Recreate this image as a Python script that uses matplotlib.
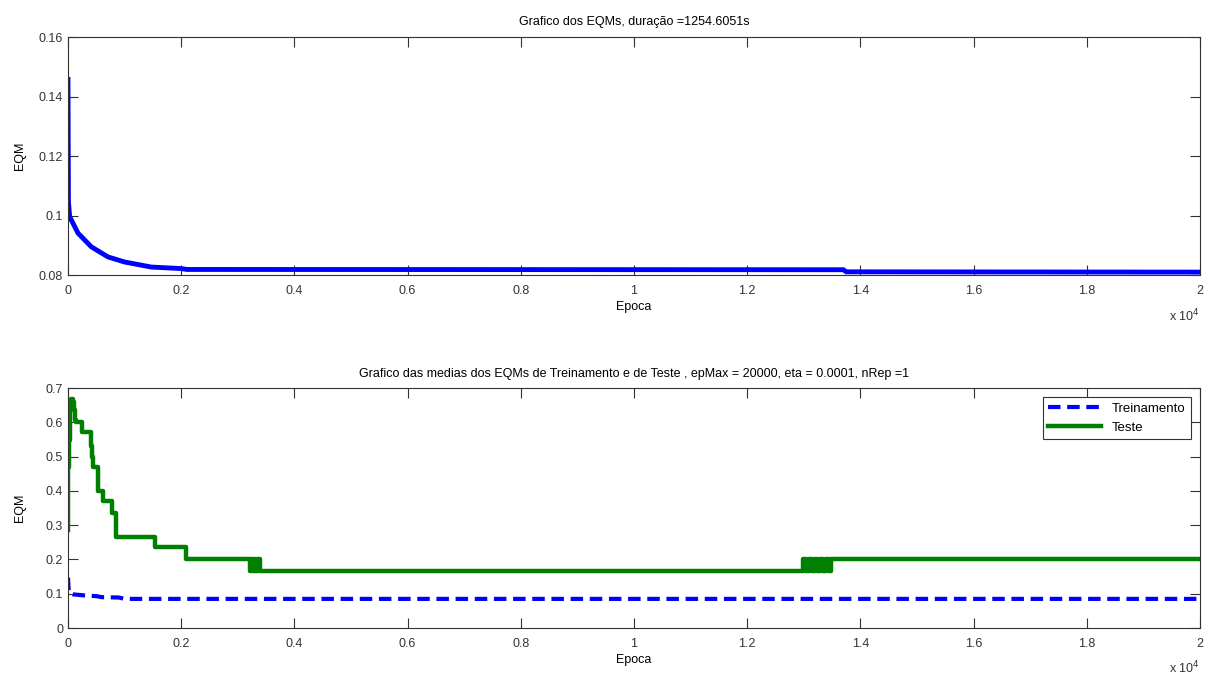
import matplotlib
matplotlib.use("Agg")
import matplotlib.pyplot as plt
from matplotlib.ticker import FuncFormatter, MultipleLocator
import numpy as np

plt.rcParams['font.family'] = ['Liberation Sans', 'DejaVu Sans']
plt.rcParams['font.size'] = 9

# --- dados ---
# EQM de treinamento (grafico de cima)
ep_top = [0, 8, 30, 177, 412, 707, 1000, 1472, 2000, 2100, 13700, 13750, 20000]
eqm_top = [0.1458, 0.1047, 0.0997, 0.0942, 0.0896, 0.0862, 0.0845, 0.0828,
           0.0823, 0.0820, 0.0819, 0.0812, 0.0811]

# medias - treinamento (tracejado)
ep_trein = [0, 15, 100, 300, 500, 600, 900, 1000, 20000]
eqm_trein = [0.147, 0.103, 0.098, 0.095, 0.093, 0.090, 0.089, 0.085, 0.085]

# medias - teste (degraus)
ep_teste = [0, 5, 12, 40, 60, 90, 110, 130, 147, 247, 383, 400, 420, 440, 500,
            530, 618, 777, 854, 883, 1531, 2091,
            3210, 3240, 3270, 3300, 3330, 3360, 3390, 3400,
            12990, 13040, 13090, 13140, 13190, 13240, 13290, 13340, 13390, 13440, 13481,
            20000]
eqm_teste = [0.286, 0.47, 0.55, 0.64, 0.668, 0.66, 0.637, 0.607, 0.60, 0.573, 0.573, 0.53, 0.50, 0.47, 0.47,
             0.40, 0.37, 0.335, 0.265, 0.265, 0.235, 0.20,
             0.167, 0.20, 0.167, 0.20, 0.167, 0.20, 0.167, 0.167,
             0.20, 0.167, 0.20, 0.167, 0.20, 0.167, 0.20, 0.167, 0.20, 0.167, 0.20,
             0.20]

titulo_top = "Grafico dos EQMs, duração =1254.6051s"
titulo_bot = ("Grafico das medias dos EQMs de Treinamento e de Teste , "
              "epMax = 20000, eta = 0.0001, nRep =1")

fig = plt.figure(figsize=(12.16, 6.75), dpi=100)
ax1 = fig.add_axes([0.0559, 0.592, 0.9309, 0.353])
ax2 = fig.add_axes([0.0559, 0.0696, 0.9309, 0.3554])

fmt_x = FuncFormatter(lambda v, p: '%g' % (v / 1e4))
fmt_y = FuncFormatter(lambda v, p: '%g' % round(v, 4))

def estilo(ax):
    ax.set_xlim(0, 20000)
    ax.xaxis.set_major_locator(MultipleLocator(2000))
    ax.xaxis.set_major_formatter(fmt_x)
    ax.yaxis.set_major_formatter(fmt_y)
    ax.tick_params(direction='in', length=7, top=True, right=True,
                   labelsize=9, colors='#333333', width=0.8)
    ax.tick_params(axis='x', pad=7)
    for s in ax.spines.values():
        s.set_color('#333333')
        s.set_linewidth(0.8)
    ax.set_xlabel('Epoca', fontsize=9, labelpad=3)
    ax.set_ylabel('EQM', fontsize=9)
    ax.yaxis.set_label_coords(-0.037, 0.5)
    ax.annotate(r'x 10$^4$', xy=(1.0, 0.0), xycoords='axes fraction',
                xytext=(0, -32), textcoords='offset pixels', ha='right',
                va='top', fontsize=9, color='#333333')

# grafico de cima
ax1.plot(ep_top, eqm_top, color='#0000ff', lw=3.5, solid_joinstyle='miter')
ax1.set_ylim(0.08, 0.16)
ax1.yaxis.set_major_locator(MultipleLocator(0.02))
ax1.set_title(titulo_top, fontsize=9, pad=9)
estilo(ax1)

# grafico de baixo
ax2.plot(ep_trein, eqm_trein, color='#0000ff', lw=3, linestyle=(0, (3, 1.6)),
         label='Treinamento')
ax2.step(ep_teste, eqm_teste, where='post', color='#008000', lw=3.2,
         label='Teste')
ax2.set_ylim(0, 0.7)
ax2.yaxis.set_major_locator(MultipleLocator(0.1))
ax2.set_title(titulo_bot, fontsize=9, pad=8)
estilo(ax2)
leg = ax2.legend(loc='upper right', fontsize=9.5, fancybox=False,
                 edgecolor='#333333', framealpha=1, handlelength=4,
                 borderaxespad=0.7)
leg.get_frame().set_linewidth(0.8)

fig.savefig('out.png', dpi=100)
